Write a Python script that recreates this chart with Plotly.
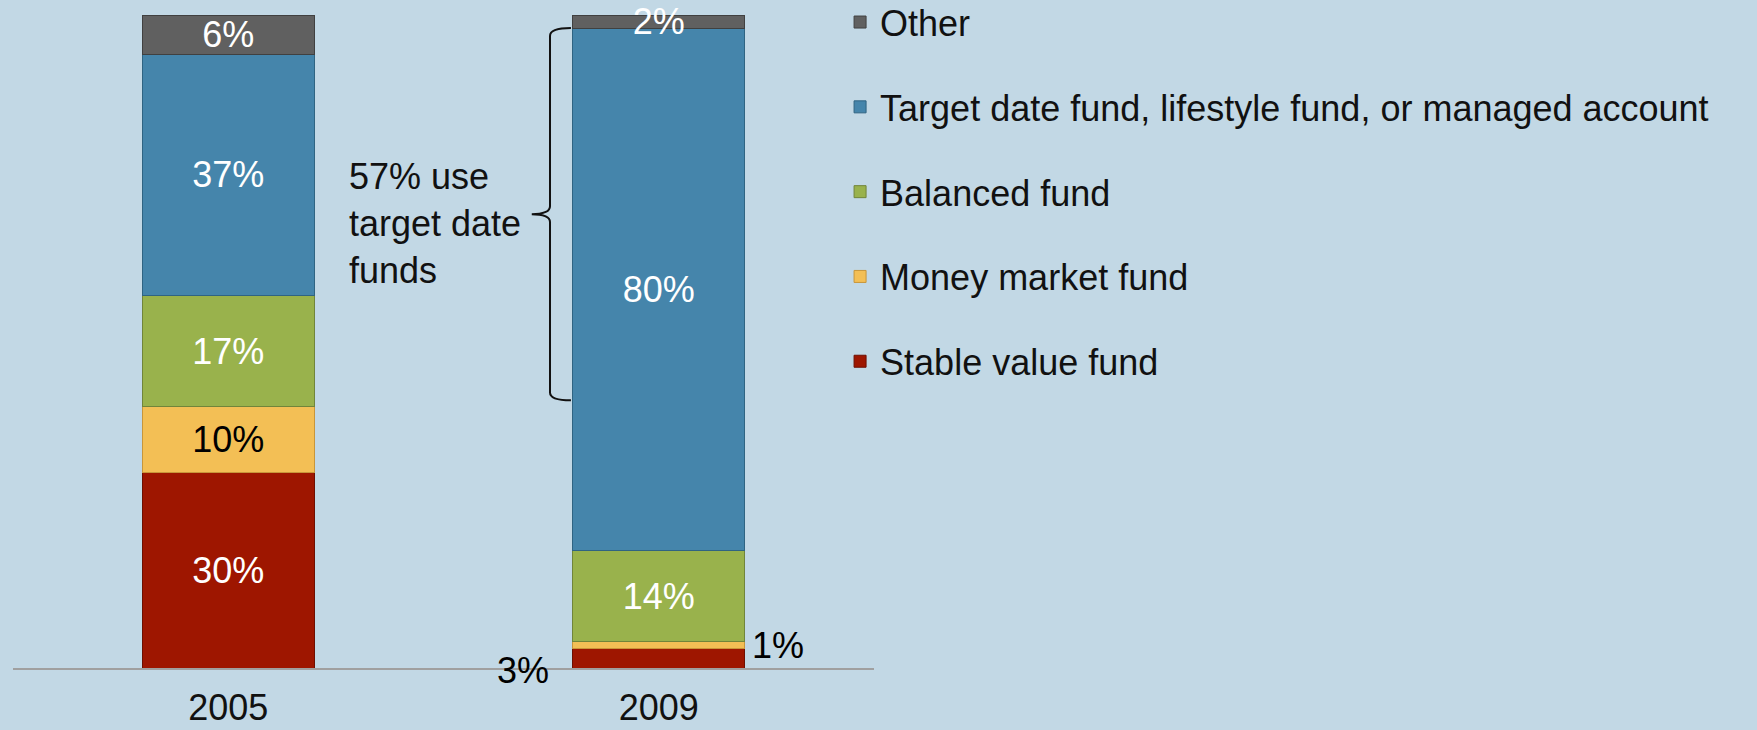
import plotly.graph_objects as go

years = ["2005", "2009"]
series_names = ["Stable value fund", "Money market fund", "Balanced fund",
                "Target date fund, lifestyle fund, or managed account", "Other"]
stable = [30, 3]
money = [10, 1]
balanced = [17, 14]
target = [37, 80]
other = [6, 2]
bracket_pct = 57
bracket_text = "57% use<br>target date<br>funds"

values = [stable, money, balanced, target, other]
colors = ["#9E1600", "#F3BF55", "#99B24C", "#4585AB", "#606060"]
edge = ["#6E0F00", "#C8963A", "#71853A", "#2F6482", "#404040"]

FONT = "Liberation Sans, Arial, sans-serif"
FS = 36
BAR_W = 0.4

fig = go.Figure()
n = len(series_names)
for i, (name, vals) in enumerate(zip(series_names, values)):
    texts = []
    tcolors = []
    for j, v in enumerate(vals):
        if j == 1 and name in ("Stable value fund", "Money market fund"):
            texts.append("")
        else:
            texts.append(f"{v}%")
        tcolors.append("black" if name == "Money market fund" else "white")
    fig.add_trace(go.Bar(
        x=years, y=vals, name=name, width=BAR_W,
        marker=dict(color=colors[i], line=dict(color=edge[i], width=1)),
        text=texts, textposition="inside", insidetextanchor="middle",
        textfont=dict(family=FONT, size=FS, color=tcolors),
        cliponaxis=False,
        legendgroup=name, legendrank=n - i, hoverinfo="skip",
    ))

mid_money = stable[1] + money[1] / 2
mid_stable = stable[1] / 2
annotations = [
    dict(x=1 + BAR_W / 2, y=mid_money, xref="x", yref="y", text=f"{money[1]}%",
         showarrow=False, xanchor="left", yanchor="middle", xshift=5,
         font=dict(family=FONT, size=FS, color="black")),
    dict(x=1 - BAR_W / 2, y=mid_stable, xref="x", yref="y", text=f"{stable[1]}%",
         showarrow=False, xanchor="right", yanchor="middle", xshift=-22, yshift=-12,
         font=dict(family=FONT, size=FS, color="black")),
]

top = 100 - other[1]
bot = top - bracket_pct
mid = (top + bot) / 2
xv, xt, xm = 0.6237, 0.648, 0.6025
r = 1.2
path = (f"M {xt} {top} Q {xv} {top} {xv} {top - r} L {xv} {mid + r} "
        f"Q {xv} {mid} {xm} {mid} Q {xv} {mid} {xv} {mid - r} "
        f"L {xv} {bot + r} Q {xv} {bot} {xt} {bot}")
shapes = [dict(type="path", path=path, xref="paper", yref="y",
               line=dict(color="#111111", width=2))]
annotations.append(dict(x=0.388, y=mid - 1.5, xref="paper", yref="y", text=bracket_text,
                        showarrow=False, xanchor="left", yanchor="middle", align="left",
                        font=dict(family=FONT, size=FS, color="#111111")))

fig.update_layout(
    width=1757, height=730,
    barmode="stack",
    paper_bgcolor="#C2D8E5", plot_bgcolor="rgba(0,0,0,0)",
    margin=dict(l=13, r=883, t=15, b=62, autoexpand=False),
    font=dict(family=FONT, size=FS, color="black"),
    uniformtext=dict(mode="show", minsize=FS),
    xaxis=dict(type="category", range=[-0.5, 1.5], showline=True, linecolor="#A0A0A0",
               linewidth=2, ticks="", showgrid=False, zeroline=False,
               ticklabelstandoff=7,
               tickfont=dict(family=FONT, size=FS, color="#111111")),
    yaxis=dict(range=[0, 100], visible=False, showgrid=False, zeroline=False),
    legend=dict(x=0.9606, y=1.035, xanchor="left", yanchor="top", traceorder="grouped",
                tracegroupgap=35, bgcolor="rgba(0,0,0,0)", maxheight=1,
                font=dict(family=FONT, size=FS, color="#111111")),
    showlegend=True,
    annotations=annotations,
    shapes=shapes,
)

fig.write_html("out.html", config={"displayModeBar": False},
               post_script="document.body.style.margin='0px';")
